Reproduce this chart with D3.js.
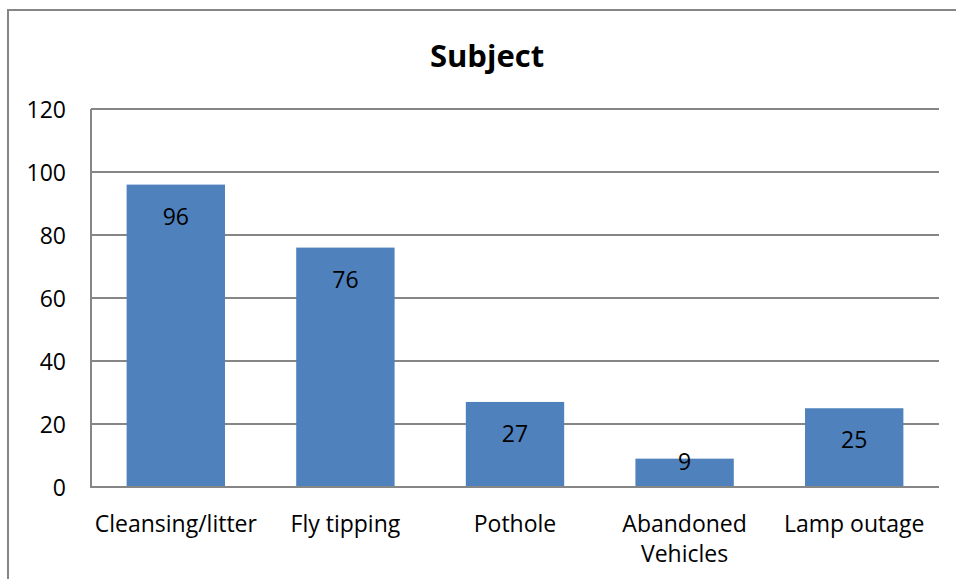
<!DOCTYPE html>
<html>
<head>
<meta charset="utf-8">
<script src="https://cdn.jsdelivr.net/npm/d3@7"></script>
<style>
  body { margin: 0; background: #fff; }
  text { font-family: "Open Sans", sans-serif; fill: #000; }
</style>
</head>
<body>
<div id="chart"></div>
<script>
// data
var categories = ["Cleansing/litter", "Fly tipping", "Pothole", "Abandoned Vehicles", "Lamp outage"]
var counts = [96, 76, 27, 9, 25]
var yTicks = [0, 20, 40, 60, 80, 100, 120]
var title = "Subject"

var width = 956, height = 579
var plot = {left: 91, right: 939, top: 109, bottom: 487}

var svg = d3.select("#chart").append("svg")
            .attr("width", width)
            .attr("height", height)

// outer chart frame (runs off the right/bottom edge like the screenshot)
svg.append("rect")
   .attr("x", 8).attr("y", 10)
   .attr("width", 980).attr("height", 640)
   .attr("fill", "none")
   .attr("stroke", "#868686")
   .attr("stroke-width", 2)

var x = d3.scaleBand()
          .domain(categories)
          .range([plot.left, plot.right])
          .paddingInner(0.42)
          .paddingOuter(0.21)

var y = d3.scaleLinear()
          .domain([0, 120])
          .range([plot.bottom, plot.top])

// gridlines
svg.append("g")
   .selectAll("line")
   .data(yTicks)
   .join("line")
   .attr("x1", plot.left).attr("x2", plot.right)
   .attr("y1", d => y(d)).attr("y2", d => y(d))
   .attr("stroke", "#868686")
   .attr("stroke-width", 2)

// y axis labels
var yAxis = d3.axisLeft(y).tickValues(yTicks).tickSize(0).tickPadding(25)
svg.append("g")
   .attr("transform", "translate(" + plot.left + ",0)")
   .call(yAxis)
   .call(g => g.select(".domain").remove())
   .selectAll("text")
   .attr("font-family", "Open Sans")
   .attr("font-size", 23)
   .attr("fill", "#000")
   .attr("dy", "0.38em")

// bars
svg.append("g")
   .selectAll("rect")
   .data(counts)
   .join("rect")
   .attr("x", (d, i) => x(categories[i]))
   .attr("y", d => y(d))
   .attr("width", x.bandwidth())
   .attr("height", d => y(0) - y(d))
   .attr("fill", "#4f81bd")

// value labels, inside end (clamped for short bars)
svg.append("g")
   .selectAll("text")
   .data(counts)
   .join("text")
   .attr("x", (d, i) => x(categories[i]) + x.bandwidth() / 2)
   .attr("y", d => Math.min(y(d) + 40, y(0) - 17))
   .attr("text-anchor", "middle")
   .attr("font-size", 23)
   .text(d => d)

// left axis line + baseline
svg.append("line")
   .attr("x1", plot.left).attr("x2", plot.left)
   .attr("y1", plot.top).attr("y2", plot.bottom)
   .attr("stroke", "#868686").attr("stroke-width", 2)
svg.append("line")
   .attr("x1", plot.left - 1).attr("x2", plot.right)
   .attr("y1", plot.bottom).attr("y2", plot.bottom)
   .attr("stroke", "#868686").attr("stroke-width", 2)

// category labels (Abandoned Vehicles wraps)
var wrapped = {"Abandoned Vehicles": ["Abandoned", "Vehicles"]}
var xl = svg.append("g")
            .selectAll("text")
            .data(categories)
            .join("text")
            .attr("text-anchor", "middle")
            .attr("font-size", 23)
            .attr("transform", d => "translate(" + (x(d) + x.bandwidth() / 2) + "," + (plot.bottom + 45) + ")")
xl.selectAll("tspan")
  .data(d => wrapped[d] || [d])
  .join("tspan")
  .attr("x", 0)
  .attr("y", (d, i) => i * 30)
  .text(d => d)

// title
svg.append("text")
   .attr("x", 487)
   .attr("y", 67)
   .attr("text-anchor", "middle")
   .attr("font-size", 31)
   .attr("font-weight", "bold")
   .text(title)
</script>
</body>
</html>
